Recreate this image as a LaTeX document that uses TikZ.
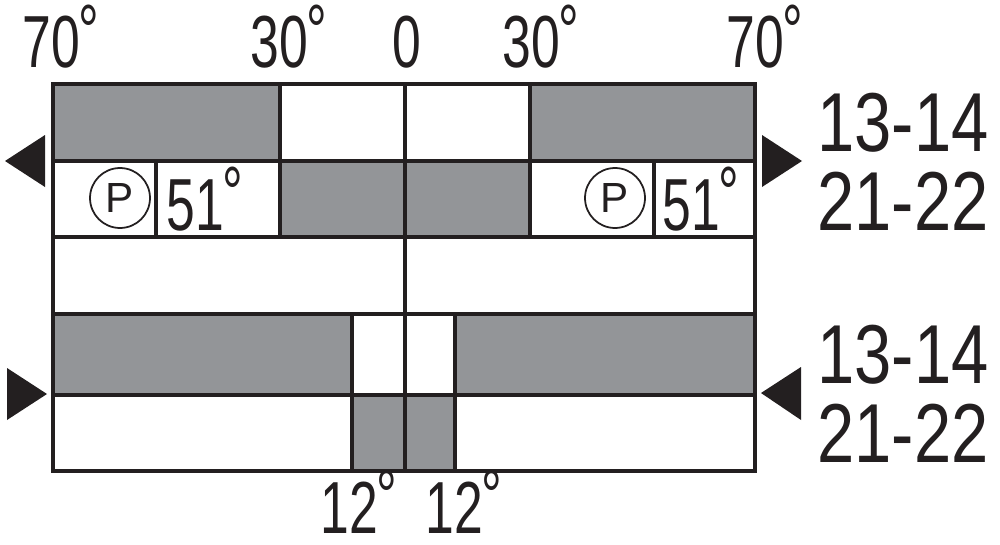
\documentclass[tikz,border=0pt]{standalone}
\usepackage{fontspec}
\setmainfont{Liberation Sans}
\newfontfamily\narrowfont{Liberation Sans}[FakeStretch=0.7]
\newfontfamily\contactfont{Liberation Sans}[FakeStretch=0.8]
\newcommand{\degmark}{\kern-.02em\raisebox{.16em}{°}}
\definecolor{camgray}{HTML}{939598}
\definecolor{ink}{HTML}{231F20}
\tikzset{
  cell/.style={fill=camgray},
  grid/.style={draw=ink, line width=2pt},
  angle/.style={anchor=base west, inner sep=0pt, text=ink, font=\narrowfont\fontsize{42}{42}\selectfont},
  contact/.style={anchor=base west, inner sep=0pt, text=ink, font=\contactfont\fontsize{47.6}{48}\selectfont},
  posmark/.style={circle, draw=ink, line width=1pt, minimum size=1.2cm, inner sep=0pt, text=ink, font=\fontsize{24}{24}\selectfont},
  pointer/.style={fill=ink}
}

\begin{document}
\begin{tikzpicture}[x=0.02cm, y=-0.02cm]
\useasboundingbox (0,0) rectangle (1000,544);
\fill[cell] (53,84) rectangle (280,161);
\fill[cell] (530,84) rectangle (755,161);
\fill[cell] (280,161) rectangle (530,237);
\fill[cell] (53,314) rectangle (352,395);
\fill[cell] (455,314) rectangle (755,395);
\fill[cell] (352,395) rectangle (455,471);
\draw[grid] (53,161) -- (755,161);
\draw[grid] (53,237) -- (755,237);
\draw[grid] (53,314) -- (755,314);
\draw[grid] (53,395) -- (755,395);
\draw[grid] (405,84) -- (405,471);
\draw[grid] (280,84) -- (280,237);
\draw[grid] (530,84) -- (530,237);
\draw[grid] (156,161) -- (156,237);
\draw[grid] (654,161) -- (654,237);
\draw[grid] (352,314) -- (352,471);
\draw[grid] (455,314) -- (455,471);
\draw[grid] (53,84) rectangle (755,471);
\node[angle] (a70l) at (22,68) {70\degmark};
\node[angle] (a30l) at (250,68) {30\degmark};
\node[angle] (a0) at (392,68) {0};
\node[angle] (a30r) at (502,68) {30\degmark};
\node[angle] (a70r) at (726,68) {70\degmark};
\node[posmark] (pl) at (120,198) {P};
\node[posmark] (pr) at (615,198) {P};
\node[angle] (a51l) at (166,230) {51\degmark};
\node[angle] (a51r) at (662,230) {51\degmark};
\node[angle] (a12l) at (320,533) {12\degmark};
\node[angle] (a12r) at (425,533) {12\degmark};
\node[contact] (c1314a) at (817,152) {13-14};
\node[contact] (c2122a) at (817,230) {21-22};
\node[contact] (c1314b) at (817,383) {13-14};
\node[contact] (c2122b) at (817,462) {21-22};
\fill[pointer] (45,135) -- (5,161) -- (45,187) -- cycle;
\fill[pointer] (762,135) -- (802,161) -- (762,187) -- cycle;
\fill[pointer] (7,368) -- (47,394) -- (7,420) -- cycle;
\fill[pointer] (801,367) -- (761,393) -- (801,420) -- cycle;
\end{tikzpicture}
\end{document}
